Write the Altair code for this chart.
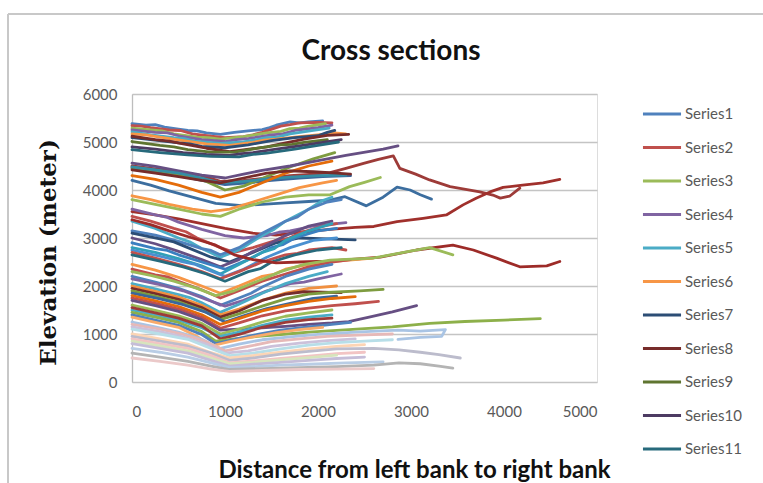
import altair as alt
import pandas as pd

# Cross-section profiles: (distance from left bank [m], elevation [m])
s01 = [(0,5380),(150,5350),(250,5360),(350,5310),(500,5270),(600,5240),(700,5230),(800,5190),(950,5160),(1100,5200),(1250,5230),(1400,5260),(1480,5300),(1550,5350),(1700,5420),(1800,5400),(1900,5420),(2050,5440)]
s02 = [(0,5340),(100,5330),(200,5300),(400,5250),(520,5240),(650,5170),(850,5120),(1000,5090),(1200,5110),(1300,5150),(1400,5200),(1600,5330),(1700,5360),(1800,5400),(2000,5410),(2150,5400)]
s03 = [(0,5290),(200,5250),(320,5230),(450,5170),(700,5100),(820,5090),(950,5060),(1200,5110),(1450,5190),(1600,5220),(1700,5280),(1800,5290),(1900,5330),(2080,5380)]
s04 = [(0,5250),(250,5200),(380,5190),(500,5130),(750,5050),(1000,5010),(1120,5050),(1250,5070),(1500,5150),(1620,5170),(1750,5240),(2000,5300),(2150,5350)]
s05 = [(0,5210),(200,5150),(450,5090),(560,5070),(700,5010),(950,4970),(1200,5000),(1450,5090),(1560,5100),(1700,5170),(1950,5240),(2120,5290)]
s06 = [(0,5170),(150,5150),(300,5100),(550,5030),(800,4960),(1050,4930),(1300,4990),(1420,5040),(1550,5060),(1800,5110),(2050,5160),(2180,5190),(2300,5170)]
s07 = [(0,5090),(250,5040),(500,4980),(620,4960),(750,4910),(1000,4880),(1250,4940),(1500,5030),(1750,5090),(2000,5130),(2100,5200),(2180,5240)]
s08 = [(0,5120),(250,5050),(400,5020),(550,4960),(800,4870),(1050,4800),(1300,4860),(1450,4900),(1600,4960),(1850,5060),(2100,5140),(2330,5160)]
s09 = [(0,5010),(300,4930),(450,4900),(600,4840),(850,4790),(1100,4790),(1350,4870),(1600,4940),(1720,4950),(1850,4990),(2100,5050)]
s10 = [(0,4900),(250,4850),(550,4780),(800,4740),(1050,4720),(1180,4760),(1300,4780),(1550,4850),(1800,4920),(2050,4990),(2250,5050)]
s11 = [(0,4840),(300,4780),(600,4730),(850,4700),(1150,4690),(1300,4740),(1450,4770),(1750,4850),(2000,4930),(2220,5000)]
s12 = [(0,4450),(250,4380),(500,4300),(750,4200),(1000,4110),(1250,4150),(1500,4200),(1800,4250),(2050,4280),(2350,4300)]
s13 = [(0,4500),(250,4440),(500,4380),(750,4300),(950,4180),(1200,4200),(1450,4250),(1700,4300),(1950,4330),(2130,4360),(2300,4450),(2490,4555),(2650,4640),(2810,4710),(2880,4450),(3050,4330),(3200,4210),(3420,4070),(3740,3960),(3880,3895),(3960,3830),(4060,3870),(4170,4040)]
s14 = [(0,4470),(300,4400),(550,4310),(800,4180),(1000,4000),(1200,4080),(1450,4280),(1700,4480),(1950,4650),(2180,4780)]
s15 = [(0,4560),(250,4490),(500,4400),(750,4310),(1000,4250),(1200,4330),(1400,4410),(1700,4500),(2030,4620),(2300,4720),(2540,4800),(2700,4850),(2860,4920)]
s16 = [(0,4480),(250,4420),(500,4350),(750,4250),(950,4150),(1200,4180),(1450,4230),(1700,4270),(2000,4300),(2300,4310)]
s17 = [(0,4300),(250,4220),(500,4100),(750,3950),(950,3850),(1150,3950),(1400,4150),(1650,4350),(1900,4500),(2150,4600)]
s18 = [(0,4420),(250,4350),(500,4280),(750,4200),(950,4150),(1200,4250),(1450,4350),(1700,4400),(1950,4380),(2200,4350),(2350,4330)]
s19 = [(0,4200),(200,4100),(400,3980),(650,3850),(900,3720),(1150,3680),(1400,3700),(1650,3730),(1900,3760),(2130,3790),(2290,3860),(2520,3670),(2700,3850),(2850,4060),(2990,4000),(3100,3900),(3220,3810)]
s20 = [(0,3880),(200,3800),(400,3700),(650,3600),(850,3550),(1050,3600),(1300,3750),(1550,3900),(1800,4050),(2050,4150),(2200,4200)]
s21 = [(0,3800),(250,3700),(500,3600),(750,3500),(950,3450),(1150,3600),(1400,3750),(1650,3850),(1900,3900),(2130,3900),(2340,4070),(2500,4160),(2670,4260)]
s22 = [(0,3550),(250,3480),(500,3400),(750,3300),(1000,3200),(1300,3100),(1550,3060),(1800,3120),(2130,3180),(2400,3220),(2600,3240),(2850,3340),(3130,3410),(3380,3480),(3560,3690),(3700,3830),(3850,3960),(3990,4055),(4200,4100),(4420,4150),(4600,4220)]
s23 = [(0,3600),(250,3480),(380,3430),(500,3330),(750,3180),(1000,3050),(1200,3000),(1450,3050),(1580,3120),(1700,3150),(1950,3250),(2200,3300),(2300,3320)]
s24 = [(0,3450),(200,3350),(450,3200),(580,3130),(700,3000),(950,2800),(1100,2700),(1300,2800),(1550,2950),(1680,2990),(1800,3100),(2050,3250),(2200,3300)]
s25 = [(0,3350),(250,3200),(500,3000),(620,2920),(750,2780),(950,2600),(1150,2750),(1400,3050),(1520,3170),(1650,3350),(1900,3600),(2050,3780),(2150,3850)]
s26 = [(0,3150),(250,3060),(500,2930),(750,2780),(850,2740),(950,2650),(1150,2800),(1400,3100),(1650,3350),(1780,3440),(1900,3600),(2100,3750),(2250,3800)]
s27 = [(0,3100),(300,2980),(450,2920),(600,2800),(850,2600),(1050,2500),(1300,2700),(1550,2900),(1800,3000),(2100,2980),(2400,2960)]
s28 = [(0,3000),(250,2880),(500,2720),(750,2550),(950,2400),(1150,2550),(1280,2700),(1400,2800),(1650,3050),(1900,3250),(2150,3350)]
s29 = [(0,2900),(250,2780),(380,2740),(500,2650),(750,2500),(1000,2350),(1250,2550),(1500,2800),(1620,2860),(1750,3000),(2000,3150),(2200,3200)]
s30 = [(0,2800),(250,2700),(500,2570),(750,2420),(950,2250),(1150,2450),(1400,2700),(1530,2780),(1650,2950),(1900,3150),(2150,3300)]
s31 = [(0,2750),(300,2620),(550,2500),(680,2450),(800,2350),(1000,2200),(1200,2350),(1450,2600),(1700,2800),(1950,2950),(2200,3000)]
s32 = [(0,2700),(250,2580),(500,2450),(750,2300),(950,2150),(1150,2300),(1400,2500),(1650,2650),(1780,2680),(1900,2750),(2150,2800),(2300,2750)]
s33 = [(0,2650),(300,2520),(550,2400),(800,2250),(1000,2100),(1250,2300),(1380,2360),(1500,2500),(1750,2650),(2000,2750),(2250,2800)]
s34 = [(0,3380),(200,3280),(400,3150),(650,3000),(900,2850),(1100,2650),(1300,2550),(1550,2480),(1800,2500),(2100,2520),(2400,2560),(2670,2600),(3060,2750),(3450,2850),(3670,2750),(3920,2580),(4170,2400),(4460,2420),(4600,2510)]
s35 = [(0,2450),(250,2330),(500,2180),(750,2000),(950,1850),(1150,2000),(1400,2200),(1520,2240),(1650,2350),(1900,2450),(2130,2510),(2400,2550),(2590,2580)]
s36 = [(0,2350),(250,2230),(380,2190),(500,2100),(750,1920),(950,1750),(1150,1900),(1400,2100),(1650,2250),(1900,2400),(2150,2500),(2350,2550)]
s37 = [(0,2300),(200,2220),(450,2100),(700,1950),(900,1800),(1100,1900),(1350,2100),(1600,2300),(1850,2450),(2130,2540),(2590,2580),(2950,2710),(3200,2800),(3450,2650)]
s38 = [(0,2200),(250,2080),(500,1950),(750,1780),(950,1600),(1150,1750),(1280,1850),(1400,1980),(1650,2200),(1900,2350),(2150,2450)]
s39 = [(0,2150),(300,2030),(550,1900),(800,1720),(1000,1580),(1200,1700),(1450,1900),(1700,2050),(1850,2080),(2000,2150),(2250,2250)]
s40 = [(0,2050),(250,1940),(500,1820),(620,1760),(750,1650),(950,1450),(1150,1620),(1400,1850),(1650,2050),(1900,2200),(2100,2300)]
s41 = [(0,2000),(250,1890),(500,1770),(750,1600),(950,1400),(1150,1520),(1400,1700),(1650,1850),(1900,1950),(2200,2000)]
s42 = [(0,1950),(250,1840),(500,1720),(750,1550),(950,1350),(1150,1480),(1400,1700),(1650,1830),(1850,1880),(2050,1870),(2250,1860)]
s43 = [(0,1900),(250,1790),(500,1670),(750,1500),(950,1300),(1150,1420),(1400,1580),(1650,1730),(1900,1830),(2150,1870),(2450,1900),(2700,1930)]
s44 = [(0,1850),(300,1730),(550,1610),(800,1450),(1000,1250),(1200,1380),(1450,1530),(1700,1640),(1950,1740),(2200,1790)]
s45 = [(0,1800),(250,1690),(500,1570),(750,1400),(950,1200),(1150,1320),(1400,1480),(1650,1590),(1900,1680),(2150,1740),(2400,1780)]
s46 = [(0,1750),(250,1640),(500,1520),(750,1350),(950,1120),(1150,1230),(1400,1380),(1650,1480),(1900,1540),(2150,1590),(2400,1630),(2650,1680)]
s47 = [(0,1700),(250,1590),(500,1470),(750,1300),(950,1080),(1150,1100),(1400,1130),(1650,1160),(1900,1200),(2150,1230),(2330,1260),(2550,1350),(2800,1460),(3060,1590)]
s48 = [(0,1600),(250,1490),(500,1380),(750,1220),(950,1000),(1150,1100),(1400,1250),(1650,1370),(1900,1440),(2150,1500)]
s49 = [(0,1500),(250,1400),(500,1290),(750,1130),(950,950),(1150,1040),(1400,1180),(1650,1290),(1900,1350),(2150,1400)]
s50 = [(0,1550),(250,1440),(500,1330),(750,1170),(950,900),(1150,990),(1400,1140),(1650,1240),(1900,1300),(2150,1330)]
s51 = [(0,1450),(250,1350),(500,1240),(750,1050),(900,850),(1100,900),(1350,950),(1600,990),(1900,1040),(2330,1090),(2800,1150),(3200,1220),(3580,1260),(4000,1290),(4390,1320)]
s52 = [(0,1400),(250,1290),(500,1180),(750,990),(900,800),(1100,890),(1350,990),(1600,1080),(1850,1140),(2100,1190),(2350,1240)]
s53 = [(0,1350),(250,1240),(500,1140),(700,950),(850,750),(1050,840),(1300,940),(1550,1030),(1800,1090),(2050,1140)]
s54 = [(0,1250),(250,1150),(500,1040),(750,890),(950,700),(1150,790),(1400,880),(1700,940),(2000,990),(2400,1040),(2860,1080),(3100,1060),(3370,1090),(3330,950),(3100,930),(2860,890)]
s55 = [(0,1200),(300,1100),(550,990),(800,840),(1000,650),(1250,740),(1500,840),(1800,900),(2100,950),(2500,980),(2800,1000)]
s56 = [(0,1150),(300,1050),(550,940),(800,790),(1000,600),(1250,650),(1500,740),(1800,810),(2100,860),(2400,900)]
s57 = [(0,1100),(300,1000),(600,890),(850,700),(1050,550),(1300,600),(1600,690),(1900,770),(2200,820),(2500,850),(2800,880)]
s58 = [(0,1000),(300,900),(600,790),(850,610),(1050,500),(1300,550),(1600,620),(1900,690),(2200,740),(2500,780)]
s59 = [(0,950),(300,850),(600,750),(850,600),(1050,450),(1300,500),(1600,580),(1900,640),(2200,690),(2600,700),(2870,670),(3100,620),(3300,570),(3530,500)]
s60 = [(0,900),(300,800),(600,700),(850,550),(1050,400),(1300,440),(1600,490),(1900,540),(2200,590),(2500,620)]
s61 = [(0,850),(300,750),(600,650),(850,500),(1050,380),(1300,410),(1600,460),(1900,510),(2200,560)]
s62 = [(0,800),(300,700),(600,600),(850,450),(1050,330),(1300,370),(1600,410),(1900,450),(2200,490),(2500,520)]
s63 = [(0,700),(300,620),(600,520),(850,400),(1050,300),(1300,320),(1600,350),(1900,370),(2300,400),(2700,420)]
s64 = [(0,600),(300,520),(600,430),(850,330),(1050,260),(1400,280),(1800,300),(2200,320),(2600,350),(2870,400),(3100,380),(3300,330),(3450,290)]
s65 = [(0,500),(300,430),(600,350),(850,270),(1050,220),(1400,240),(1800,260),(2200,270),(2600,280)]

profiles = [s01, s02, s03, s04, s05, s06, s07, s08, s09, s10, s11, s12, s13,
            s14, s15, s16, s17, s18, s19, s20, s21, s22, s23, s24, s25, s26,
            s27, s28, s29, s30, s31, s32, s33, s34, s35, s36, s37, s38, s39,
            s40, s41, s42, s43, s44, s45, s46, s47, s48, s49, s50, s51, s52,
            s53, s54, s55, s56, s57, s58, s59, s60, s61, s62, s63, s64, s65]

series_names = [f"Series{i + 1}" for i in range(len(profiles))]

chart_title = "Cross sections"
x_title = "Distance from left bank to right bank"
y_title = "Elevation (meter)"

# Office-style line colours, one per series
series_colors = [
    "#4F81BD", "#C0504D", "#9BBB59", "#8064A2", "#4BACC6", "#F79646",
    "#2C4D75", "#772C2A", "#5F7530", "#4D3B62", "#276A7C",
    "#3A679C", "#9D3B38", "#7E9C40", "#664F83", "#358DA4", "#E46C0A",
    "#772C2A", "#3C6E9F", "#F79646", "#9BBB59", "#A0302C",
    "#8064A2", "#C0504D", "#4BACC6", "#4F81BD", "#2C4D75", "#664F83",
    "#3A7FC0", "#31A0B8", "#4A90D0", "#C0504D", "#276A7C", "#9D2B28",
    "#F79646", "#C0504D", "#9BBB59", "#4F81BD", "#8064A2", "#4BACC6",
    "#F09040", "#772C2A", "#7E9C40", "#3A679C", "#E46C0A", "#C0504D",
    "#664F83", "#9BBB59", "#4BACC6", "#9D3B38", "#8DB04A", "#4F81BD",
    "#F9AB6B",
    "#A9C4E4", "#E6B9B8", "#CCC1DA", "#B7DEE8", "#FCD5B5", "#BCBCCC",
    "#F2C4C4", "#D7E4BD", "#C5BDD8", "#B9CDE5", "#B4B4B4", "#EBC9C9",
]

rows = []
for name, pts in zip(series_names, profiles):
    for step, (dist, elev) in enumerate(pts):
        rows.append({"series": name, "step": step, "dist": dist, "elev": elev})
df = pd.DataFrame(rows)

x_ticks = [0, 1000, 2000, 3000, 4000, 5000]
y_ticks = [0, 1000, 2000, 3000, 4000, 5000, 6000]

lines = alt.Chart(df).mark_line(strokeWidth=2.8, strokeJoin="round", strokeCap="round").encode(
    x=alt.X("dist:Q",
            scale=alt.Scale(domain=[0, 5000], nice=False),
            axis=alt.Axis(values=x_ticks, format="d", grid=False, ticks=False, domain=False,
                          labelPadding=22, labelFont="Lato", labelFontSize=15,
                          labelColor="#595959",
                          title=x_title,
                          titleFont="Lato", titleFontSize=24, titleFontWeight="bold",
                          titleColor="#111111", titleX=282, titleY=88,
                          titleBaseline="middle", titleAlign="center")),
    y=alt.Y("elev:Q",
            scale=alt.Scale(domain=[0, 6000], nice=False),
            axis=alt.Axis(values=y_ticks, format="d", grid=True, gridColor="#C4C4C4",
                          gridWidth=1.3, ticks=False, domain=True, domainColor="#BDBDBD",
                          domainWidth=1.3, labelPadding=15, labelFont="Lato",
                          labelFontSize=15, labelColor="#595959",
                          title=y_title,
                          titleFont="DejaVu Serif", titleFontSize=23, titleFontWeight="bold",
                          titleColor="#111111", titleX=-84, titleY=158,
                          titleBaseline="middle", titleAlign="center", titleAngle=270)),
    color=alt.Color("series:N",
                    scale=alt.Scale(domain=series_names, range=series_colors),
                    legend=alt.Legend(values=series_names[:11], title=None, orient="none",
                                      legendX=509, legendY=-1, symbolType="stroke",
                                      symbolSize=1450, symbolStrokeWidth=3,
                                      labelFont="Lato", labelFontSize=15,
                                      labelColor="#595959", labelOffset=2,
                                      rowPadding=4.5)),
    order=alt.Order("step:Q"),
)

title_df = pd.DataFrame({"label": [chart_title]})
title_mark = alt.Chart(title_df).mark_text(
    font="Lato", fontSize=28, fontWeight="bold", color="#111111",
    align="center", baseline="middle",
).encode(text="label:N", x=alt.value(259), y=alt.value(-42))

# light frame around the chart area
frame_top = alt.Chart(title_df).mark_rule(color="#C8C8C8", strokeWidth=2).encode(
    x=alt.value(-124), x2=alt.value(640), y=alt.value(-80))
frame_left = alt.Chart(title_df).mark_rule(color="#C8C8C8", strokeWidth=2).encode(
    x=alt.value(-124), y=alt.value(-80), y2=alt.value(400))

chart = alt.layer(frame_top, frame_left, title_mark, lines).properties(
    width=465,
    height=288,
    padding={"left": 132, "top": 94, "right": 166, "bottom": 101},
    autosize=alt.AutoSizeParams(type="none"),
).configure_view(strokeWidth=0).configure(background="white")

chart.save("out.html", embed_options={"renderer": "svg", "actions": False})
